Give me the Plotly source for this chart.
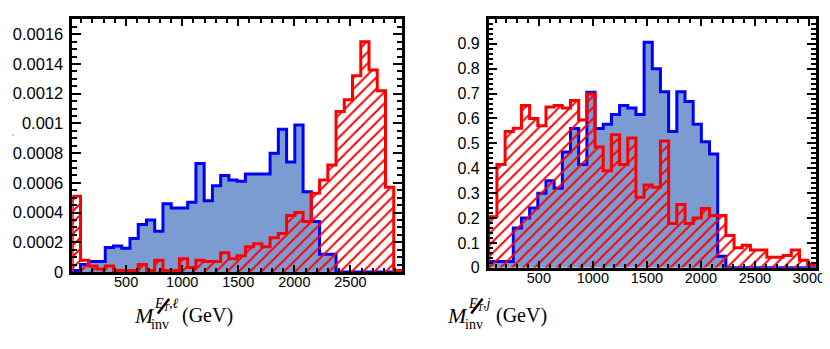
import plotly.graph_objects as go

W, H = 830, 349

# left panel: M_inv(MET, lepton), 40 bins
left_lo, left_hi = 20, 2960
left_blue = [0.00001, 0.00005, 0.00007, 0.00007, 0.000165, 0.000175, 0.00016, 0.000225,
             0.00032, 0.00035, 0.000275, 0.00046, 0.00043, 0.00043, 0.00047, 0.00073,
             0.00048, 0.00058, 0.00065, 0.00062, 0.00061, 0.00066, 0.00066, 0.00066,
             0.0008, 0.00096, 0.00074, 0.00099, 0.00054, 0.00034, 0.00012, 0.00012,
             0, 0, 0, 0, 0, 0, 0, 0]
left_red = [0.00051, 0.00008, 0.00004, 0.00002, 0.00004, 0.00001, 0.00001, 0.00001,
            0.00005, 0.00001, 0.00008, 0.00001, 0.00001, 0.00009, 0.00003, 0.00008,
            0.00007, 0.00007, 0.00013, 0.00009, 0.00011, 0.00017, 0.00019, 0.00017,
            0.00023, 0.00026, 0.00038, 0.0004, 0.00034, 0.00053, 0.00062, 0.00072,
            0.00108, 0.00116, 0.00132, 0.00155, 0.00136, 0.00122, 0.00057, 0.00001]
left_xticks = [500, 1000, 1500, 2000, 2500]
left_yticks = [0, 0.0002, 0.0004, 0.0006, 0.0008, 0.001, 0.0012, 0.0014, 0.0016]
left_ylabels = ["0", "0.0002", "0.0004", "0.0006", "0.0008", "0.001", "0.0012", "0.0014", "0.0016"]

# right panel: M_inv(MET, jet), 40 bins
right_lo, right_hi = 36, 3064
right_blue = [0.025, 0.025, 0.025, 0.16, 0.2, 0.24, 0.3, 0.35, 0.32, 0.465,
              0.56, 0.415, 0.705, 0.56, 0.577, 0.616, 0.652, 0.642, 0.616, 0.906,
              0.8, 0.707, 0.548, 0.707, 0.668, 0.577, 0.506, 0.457, 0.046, 0,
              0, 0, 0, 0, 0, 0, 0, 0, 0, 0]
right_red = [0.205, 0.415, 0.548, 0.561, 0.652, 0.6, 0.571, 0.646, 0.652, 0.642,
             0.672, 0.594, 0.698, 0.485, 0.39, 0.535, 0.415, 0.522, 0.284, 0.333,
             0.324, 0.509, 0.178, 0.254, 0.178, 0.2, 0.238, 0.21, 0.21, 0.13,
             0.081, 0.091, 0.072, 0.072, 0.042, 0.042, 0.05, 0.072, 0.03, 0.013]
right_xticks = [500, 1000, 1500, 2000, 2500, 3000]
right_yticks = [0, 0.1, 0.2, 0.3, 0.4, 0.5, 0.6, 0.7, 0.8, 0.9]
right_ylabels = ["0", "0.1", "0.2", "0.3", "0.4", "0.5", "0.6", "0.7", "0.8", "0.9"]

BLUE_FILL = "#7b9bd1"
SANS = "Liberation Sans, Arial, Helvetica"
SERIF = "Liberation Serif, Times New Roman, serif"


def step(lo, hi, vals):
    """Outline of a histogram as points for line_shape='hv'."""
    w = (hi - lo) / len(vals)
    xs = [lo] + [lo + i * w for i in range(len(vals))] + [hi, hi]
    ys = [0] + list(vals) + [vals[-1], 0]
    return xs, ys


def hist_traces(lo, hi, blue, red, xa, ya):
    bx, by = step(lo, hi, blue)
    rx, ry = step(lo, hi, red)
    return [
        go.Scatter(x=bx, y=by, mode="lines", line=dict(shape="hv", color="#0000ff", width=3),
                   fill="tozeroy", fillcolor=BLUE_FILL, xaxis=xa, yaxis=ya,
                   hoverinfo="skip", showlegend=False),
        go.Scatter(x=rx, y=ry, mode="lines", line=dict(shape="hv", color="#ff0000", width=3),
                   fill="tozeroy", fillcolor="rgba(0,0,0,0)",
                   fillpattern=dict(shape="/", fgcolor="#ff0000", bgcolor="rgba(0,0,0,0)",
                                    size=8, solidity=0.24, fillmode="replace"),
                   xaxis=xa, yaxis=ya, hoverinfo="skip", showlegend=False),
    ]


def axis(domain, rng, tickvals, ticktext, ticklen, minor_dtick, minor_len, standoff, fsize):
    return dict(domain=domain, range=rng, tickmode="array", tickvals=tickvals,
                ticktext=ticktext, ticks="inside", ticklen=ticklen, tickwidth=2,
                tickcolor="black", showline=True, linecolor="black", linewidth=2.5,
                mirror="ticks", showgrid=False, zeroline=False,
                ticklabelstandoff=standoff,
                minor=dict(tickmode="linear", tick0=0, dtick=minor_dtick, ticks="inside",
                           ticklen=minor_len, tickwidth=1.5, tickcolor="black"),
                tickfont=dict(family=SANS, size=fsize, color="black"))


fig = go.Figure(hist_traces(left_lo, left_hi, left_blue, left_red, "x", "y")
                + hist_traces(right_lo, right_hi, right_blue, right_red, "x2", "y2"))

fig.update_layout(
    width=W, height=H, margin=dict(l=0, r=0, t=0, b=0),
    paper_bgcolor="white", plot_bgcolor="white",
    xaxis=axis([65 / W, 398.3 / W], [left_lo, left_hi], left_xticks,
               [str(v) for v in left_xticks], 7, 100, 4, -5, 14.5),
    yaxis=axis([1 - 271 / H, 1 - 11.7 / H], [0, 0.0017], left_yticks, left_ylabels,
               9, 0.00005, 5, 3, 16.5),
    xaxis2=axis([486 / W, 816.7 / W], [right_lo, right_hi], right_xticks,
                [str(v) for v in right_xticks], 7, 100, 4, -5, 14.5),
    yaxis2=axis([1 - 266.7 / H, 1 - 11.7 / H], [0, 0.998], right_yticks, right_ylabels,
                9, 0.02, 5, 3, 16),
)
fig.layout.yaxis2.anchor = "x2"
fig.layout.xaxis2.anchor = "y2"


# axis titles, LaTeX-like: M_inv^{MET_T, l} (GeV)
def title_parts(x0, sup):
    parts = [
        dict(text="<i>M</i>", x=x0, y=316, size=22),
        dict(text="inv", x=x0 + 18, y=325, size=14),
        dict(text="<i>E<sub>T</sub></i>" + sup, x=x0 + 21, y=304, size=14),
        dict(text="(GeV)", x=x0 + 49, y=316, size=20),
    ]
    out = []
    for a in parts:
        out.append(dict(text=a["text"], x=a["x"] / W, y=1 - a["y"] / H, xref="paper",
                        yref="paper", xanchor="left", yanchor="middle", showarrow=False,
                        borderpad=0, borderwidth=0,
                        font=dict(family=SERIF, size=a["size"], color="black")))
    return out


annotations = title_parts(127, ",<i>ℓ</i>") + title_parts(444, ",<i>j</i>")
# stray marks at the far left edge of the picture
for yy, mark in ((92, "`"), (128, ",")):
    annotations.append(dict(text=mark, x=7 / W, y=1 - yy / H, xref="paper", yref="paper",
                            xanchor="right", showarrow=False, borderpad=0,
                            font=dict(family=SANS, size=7, color="black")))
fig.update_layout(annotations=annotations)

# slash through E (missing transverse energy)
for x0 in (151.5, 468.3):
    fig.add_shape(type="line", xref="paper", yref="paper",
                  x0=x0 / W, y0=1 - 313.5 / H, x1=(x0 + 11.5) / W, y1=1 - 298.5 / H,
                  line=dict(color="black", width=2.5))

fig.write_html("out.html")
